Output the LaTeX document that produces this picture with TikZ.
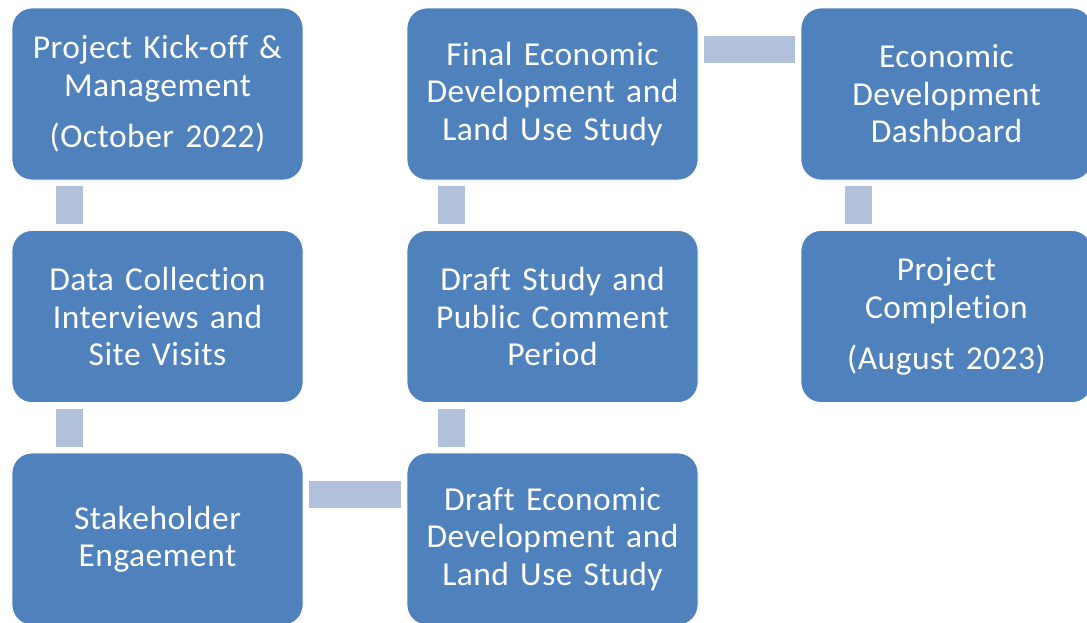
\documentclass[tikz,border=0pt]{standalone}
\usepackage{fontspec}
\setmainfont{Carlito}[WordSpace=0.8, LetterSpace=1.5, Ligatures=NoCommon]
\definecolor{boxblue}{HTML}{4F81BD}
\definecolor{linkblue}{HTML}{B2C1DB}
\tikzset{
    stage/.style={rectangle, rounded corners=20pt, fill=boxblue, draw=white, line width=0.8pt,
        minimum width=291pt, minimum height=172pt, text width=285pt, align=center,
        text=white, inner sep=0pt, font=\fontsize{33.5}{37.5}\selectfont},
    link/.style={draw=linkblue, line width=27pt, shorten <=6pt, shorten >=6pt},
}

\begin{document}
\begin{tikzpicture}[x=1pt, y=-1pt]
    \useasboundingbox (0, 0) rectangle (1087, 622);
    \node[stage] at (157.5, 94)(kick){Project Kick-off \&\\ Management\\[14pt] (October 2022)};
    \node[stage] at (157.5, 316.5)(data){Data Collection\\ Interviews and\\ Site Visits};
    \node[stage] at (157.5, 539)(stake){Stakeholder\\ Engaement};
    \node[stage] at (552.5, 539)(draft){Draft Economic\\ Development and\\ Land Use Study};
    \node[stage] at (552.5, 316.5)(comment){Draft Study and\\ Public Comment\\ Period};
    \node[stage] at (552.5, 94)(final){Final Economic\\ Development and\\ Land Use Study};
    \node[stage] at (946.5, 94)(dash){Economic\\ Development\\ Dashboard};
    \node[stage] at (946.5, 316.5)(done){Project\\ Completion\\[14pt] (August 2023)};

    \path[link]
        ([xshift=57.5pt]kick.south west)edge([xshift=57.5pt]data.north west)
        ([xshift=57.5pt]data.south west)edge([xshift=57.5pt]stake.north west)
        ([yshift=-41.5pt]stake.north east)edge([yshift=-41.5pt]draft.north west)
        ([xshift=44.5pt]draft.north west)edge([xshift=44.5pt]comment.south west)
        ([xshift=44.5pt]comment.north west)edge([xshift=44.5pt]final.south west)
        ([yshift=-41.5pt]final.north east)edge([yshift=-41.5pt]dash.north west)
        ([xshift=57.5pt]dash.south west)edge([xshift=57.5pt]done.north west)
        ;
\end{tikzpicture}
\end{document}
